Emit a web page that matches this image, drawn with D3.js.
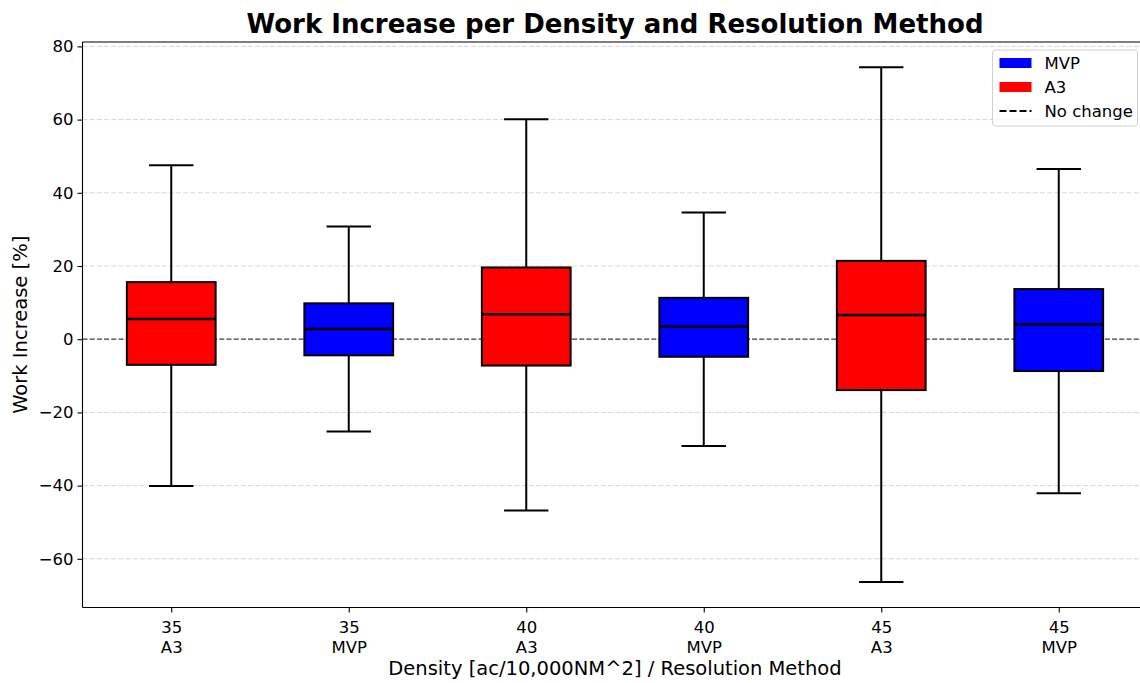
<!DOCTYPE html>
<html><head><meta charset="utf-8">
<script src="https://cdn.jsdelivr.net/npm/d3@7"></script>
<style>body{margin:0;background:#fff;} text{font-family:"DejaVu Sans",sans-serif;}</style>
</head><body><svg id="c" width="1140" height="683"></svg>
<script>
const densities = ["35","35","40","40","45","45"];
const methods = ["A3","MVP","A3","MVP","A3","MVP"];
const whiskerLow = [-40.1,-25.2,-46.8,-29.2,-66.3,-42.1];
const q1 = [-7.0,-4.4,-7.2,-4.8,-13.9,-8.7];
const median = [5.5,2.8,6.8,3.5,6.6,4.1];
const q3 = [15.6,9.8,19.6,11.3,21.4,13.7];
const whiskerHigh = [47.5,30.8,60.1,34.6,74.3,46.5];
const yTicks = [-60,-40,-20,0,20,40,60,80];
const colors = {A3:"#ff0000", MVP:"#0000ff"};
const legendItems = [{label:"MVP",type:"patch",color:"#0000ff"},{label:"A3",type:"patch",color:"#ff0000"},{label:"No change",type:"line"}];

const svg = d3.select("#c");
const L=82.5, T=42, B=607.5;
const step=177.5;
const R = L + step*6;
const x = d3.scaleLinear().domain([-0.5,5.5]).range([L,R]);
const y = d3.scaleLinear().domain([-73.3,81.2]).range([B,T]);
const TF = 16.5;

// grid
svg.append("g").selectAll("line").data(yTicks).join("line")
  .attr("x1",L).attr("x2",R).attr("y1",d=>y(d)).attr("y2",d=>y(d))
  .attr("stroke","#b0b0b0").attr("stroke-opacity",0.5).attr("stroke-width",1).attr("stroke-dasharray","5,2.2");

// zero line
svg.append("line").attr("x1",L).attr("x2",R).attr("y1",y(0)).attr("y2",y(0))
  .attr("stroke","#000").attr("stroke-opacity",0.7).attr("stroke-width",1.3).attr("stroke-dasharray","5,2.2");

const data = densities.map((d,i)=>({i,d,m:methods[i],lo:whiskerLow[i],q1:q1[i],med:median[i],q3:q3[i],hi:whiskerHigh[i]}));
const bw = step*0.5, cw = step*0.25;
const g = svg.append("g").selectAll("g").data(data).join("g");
g.append("line").attr("x1",d=>x(d.i)).attr("x2",d=>x(d.i)).attr("y1",d=>y(d.lo)).attr("y2",d=>y(d.q1)).attr("stroke","#000").attr("stroke-width",2);
g.append("line").attr("x1",d=>x(d.i)).attr("x2",d=>x(d.i)).attr("y1",d=>y(d.q3)).attr("y2",d=>y(d.hi)).attr("stroke","#000").attr("stroke-width",2);
g.append("line").attr("x1",d=>x(d.i)-cw/2).attr("x2",d=>x(d.i)+cw/2).attr("y1",d=>y(d.lo)).attr("y2",d=>y(d.lo)).attr("stroke","#000").attr("stroke-width",2);
g.append("line").attr("x1",d=>x(d.i)-cw/2).attr("x2",d=>x(d.i)+cw/2).attr("y1",d=>y(d.hi)).attr("y2",d=>y(d.hi)).attr("stroke","#000").attr("stroke-width",2);
g.append("rect").attr("x",d=>x(d.i)-bw/2).attr("width",bw).attr("y",d=>y(d.q3)).attr("height",d=>y(d.q1)-y(d.q3))
  .attr("fill",d=>colors[d.m]).attr("stroke","#000").attr("stroke-width",2);
g.append("line").attr("x1",d=>x(d.i)-bw/2).attr("x2",d=>x(d.i)+bw/2).attr("y1",d=>y(d.med)).attr("y2",d=>y(d.med)).attr("stroke","#000").attr("stroke-width",2.5);

// spines
svg.append("line").attr("x1",L).attr("x2",L).attr("y1",T).attr("y2",B).attr("stroke","#000").attr("stroke-width",1.1);
svg.append("line").attr("x1",L).attr("x2",R).attr("y1",T).attr("y2",T).attr("stroke","#000").attr("stroke-width",1.1);
svg.append("line").attr("x1",L).attr("x2",R).attr("y1",B).attr("y2",B).attr("stroke","#000").attr("stroke-width",1.1);

// y axis ticks
const yAxis = svg.append("g").attr("transform",`translate(${L},0)`)
  .call(d3.axisLeft(y).tickValues(yTicks).tickSize(5).tickPadding(4).tickFormat(d=>d<0?"\u2212"+Math.abs(d):d));
yAxis.select(".domain").remove();
yAxis.attr("font-size",TF).attr("font-family","DejaVu Sans");
yAxis.selectAll("text").attr("fill","#000");
yAxis.selectAll("line").attr("stroke","#000").attr("stroke-width",1.1);

// x axis ticks
const xAxis = svg.append("g").attr("transform",`translate(0,${B})`)
  .call(d3.axisBottom(x).tickValues(d3.range(6)).tickSize(5).tickFormat(()=>""));
xAxis.select(".domain").remove();
xAxis.attr("font-size",TF).attr("font-family","DejaVu Sans");
xAxis.selectAll("line").attr("stroke","#000").attr("stroke-width",1.1);
xAxis.selectAll(".tick").each(function(d){
  const t = d3.select(this).select("text").attr("fill","#000").attr("y",25).attr("dy",0);
  t.append("tspan").attr("x",0).attr("y",25).text(densities[d]);
  t.append("tspan").attr("x",0).attr("y",45).text(methods[d]);
});

// title & labels
svg.append("text").attr("x",(L+R)/2).attr("y",33).attr("text-anchor","middle").attr("font-weight","bold").attr("font-size",26).text("Work Increase per Density and Resolution Method");
svg.append("text").attr("x",(L+R)/2).attr("y",675).attr("text-anchor","middle").attr("font-size",19.5).text("Density [ac/10,000NM^2] / Resolution Method");
svg.append("text").attr("transform",`translate(27,${(T+B)/2}) rotate(-90)`).attr("text-anchor","middle").attr("font-size",19.5).text("Work Increase [%]");

// legend
const lg = svg.append("g").attr("transform","translate(992.5,50)");
lg.append("rect").attr("width",145).attr("height",76).attr("rx",3).attr("fill","#fff").attr("fill-opacity",0.8).attr("stroke","#d0d0d0").attr("stroke-width",1);
legendItems.forEach((it,k)=>{
  const cy = 13 + k*24;
  if(it.type==="patch") lg.append("rect").attr("x",7).attr("y",cy-5).attr("width",32).attr("height",10).attr("fill",it.color);
  else lg.append("line").attr("x1",7).attr("x2",39).attr("y1",cy).attr("y2",cy).attr("stroke","#000").attr("stroke-width",2).attr("stroke-dasharray","7,3");
  lg.append("text").attr("x",52).attr("y",cy).attr("dy","0.35em").attr("font-size",TF).text(it.label);
});
</script></body></html>
